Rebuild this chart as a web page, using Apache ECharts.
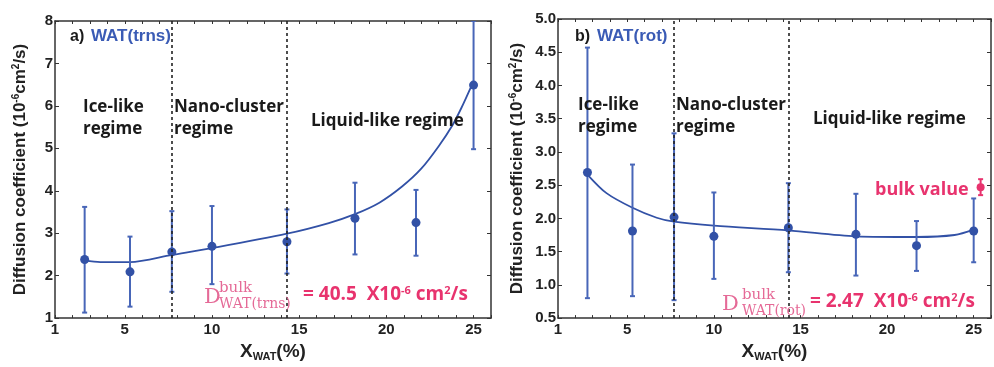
<!DOCTYPE html>
<html><head><meta charset="utf-8">
<script src="https://cdn.jsdelivr.net/npm/echarts@6/dist/echarts.min.js"></script>
<style>html,body{margin:0;padding:0;background:#fff}#c{width:994px;height:367px}</style>
</head><body><div id="c"></div><script>
// ---- data ----
const xTickLabels = [1, 5, 10, 15, 20, 25];
const regimeBounds = [7.7, 14.3];
const trnsX = [2.7, 5.3, 7.7, 10, 14.3, 18.2, 21.7, 25];
const trnsY = [2.38, 2.09, 2.56, 2.69, 2.80, 3.35, 3.25, 6.49];
const trnsLow = [1.13, 1.27, 1.62, 1.80, 2.05, 2.50, 2.47, 4.98];
const trnsHigh = [3.62, 2.92, 3.52, 3.64, 3.56, 4.19, 4.02, 8.0];
const trnsFitX = [2.7, 3.6, 5.3, 7.7, 10, 14.3, 16.7, 18.2, 19.6, 20.9, 22.0, 23.0, 23.8, 24.3, 24.9];
const trnsFitY = [2.36, 2.32, 2.32, 2.49, 2.65, 2.99, 3.24, 3.45, 3.72, 4.10, 4.52, 5.05, 5.55, 5.95, 6.49];
const rotX = [2.7, 5.3, 7.7, 10, 14.3, 18.2, 21.7, 25];
const rotY = [2.69, 1.81, 2.02, 1.73, 1.86, 1.76, 1.59, 1.81];
const rotLow = [0.80, 0.83, 0.77, 1.09, 1.19, 1.14, 1.21, 1.34];
const rotHigh = [4.57, 2.81, 3.28, 2.39, 2.53, 2.37, 1.96, 2.30];
const rotFitX = [2.7, 3.8, 5.3, 6.7, 7.7, 10, 14.3, 18.2, 21.7, 23.9, 25];
const rotFitY = [2.66, 2.38, 2.16, 2.01, 1.95, 1.89, 1.82, 1.73, 1.72, 1.75, 1.83];
const bulkX = [25.4];
const bulkY = [2.47];
const bulkLow = [2.35];
const bulkHigh = [2.59];

// ---- styles ----
const BLUE = '#3251a6', BAR = '#4866b8', PINK = '#e8336e', PINK2 = '#e56a97', DARK = '#222';
const axisFont = {fontFamily: 'Liberation Sans', fontWeight: 'bold', fontSize: 15, color: DARK};
const lineStyle = {color: '#333', width: 1.5};

function xAxes(gi) {
  return [
    {gridIndex: gi, type: 'value', min: 1, max: 26, interval: 1, position: 'bottom',
     axisLine: {lineStyle}, axisTick: {inside: true, length: 3, lineStyle: {color: '#333'}},
     axisLabel: Object.assign({customValues: xTickLabels, margin: 4}, axisFont),
     splitLine: {show: false},
     name: 'X{s|WAT}(%)', nameLocation: 'middle', nameGap: 15,
     nameTextStyle: {fontFamily: 'Liberation Sans', fontWeight: 'bold', fontSize: 19, color: DARK,
       rich: {s: {fontFamily: 'Liberation Sans', fontWeight: 'bold', fontSize: 11, color: DARK, verticalAlign: 'bottom', padding: [10, 0, 0, 0]}}}},
    {gridIndex: gi, type: 'value', min: 1, max: 26, interval: 1, position: 'top',
     axisLine: {lineStyle}, axisTick: {inside: true, length: 3, lineStyle: {color: '#333'}},
     axisLabel: {show: false}, splitLine: {show: false}}
  ];
}
function yAxes(gi, min, max, interval, fmt, gap) {
  return [
    {gridIndex: gi, type: 'value', min, max, interval, position: 'left',
     axisLine: {lineStyle}, axisTick: {inside: true, length: 4, lineStyle: {color: '#333'}},
     axisLabel: Object.assign({margin: 2, formatter: fmt}, axisFont), splitLine: {show: false},
     name: 'Diffusion coefficient (10{p|-6}cm{p|2}/s)', nameLocation: 'middle', nameGap: gap, nameRotate: 90,
     nameTextStyle: {fontFamily: 'Liberation Sans', fontWeight: 'bold', fontSize: 17, color: DARK,
       rich: {p: {fontFamily: 'Liberation Sans', fontWeight: 'bold', fontSize: 10, color: DARK, verticalAlign: 'top', padding: [0, 0, 8, 0]}}}},
    {gridIndex: gi, type: 'value', min, max, interval, position: 'right',
     axisLine: {lineStyle}, axisTick: {inside: true, length: 4, lineStyle: {color: '#333'}},
     axisLabel: {show: false}, splitLine: {show: false}}
  ];
}
function errSeries(xi, yi, xs, lows, highs, color) {
  return {type: 'custom', xAxisIndex: xi, yAxisIndex: yi, clip: true, z: 3,
    data: xs.map((x, i) => [x, lows[i], highs[i]]),
    renderItem(params, api) {
      const x = api.value(0);
      const lo = api.coord([x, api.value(1)]);
      const hi = api.coord([x, api.value(2)]);
      const w = 2.5, st = {stroke: color, lineWidth: 2};
      return {type: 'group', children: [
        {type: 'line', shape: {x1: lo[0], y1: lo[1], x2: hi[0], y2: hi[1]}, style: st},
        {type: 'line', shape: {x1: lo[0] - w, y1: lo[1], x2: lo[0] + w, y2: lo[1]}, style: st},
        {type: 'line', shape: {x1: hi[0] - w, y1: hi[1], x2: hi[0] + w, y2: hi[1]}, style: st}
      ]};
    }};
}
function pts(xi, yi, xs, ys, color, size) {
  return {type: 'scatter', xAxisIndex: xi, yAxisIndex: yi, symbolSize: size, z: 4,
    itemStyle: {color, opacity: 1}, data: xs.map((x, i) => [x, ys[i]])};
}
function fit(xi, yi, xs, ys) {
  return {type: 'line', xAxisIndex: xi, yAxisIndex: yi, smooth: 0.3, showSymbol: false, z: 2,
    lineStyle: {color: BLUE, width: 1.8}, data: xs.map((x, i) => [x, ys[i]]),
    markLine: {silent: true, symbol: 'none', label: {show: false},
      lineStyle: {color: DARK, type: [3, 3], width: 1.6},
      data: regimeBounds.map(v => ({xAxis: v}))}};
}

const regFont = {fontFamily: 'Open Sans', fontWeight: 'bold', fontSize: 17, fill: '#1a1a1a'};
function t(x, y, text, extra) {
  return {type: 'text', x, y, z: 10, style: Object.assign({text}, regFont, extra || {})};
}
const serif = {fontFamily: 'DejaVu Serif', fontWeight: 'normal', fill: PINK2};
const pinkRich = {fontFamily: 'Open Sans', fontWeight: 'bold', fontSize: 19, fill: PINK,
  rich: {s: {fontFamily: 'Open Sans', fontWeight: 'bold', fontSize: 11, fill: PINK, verticalAlign: 'top', padding: [0, 0, 9, 0]}}};

const option = {
  animation: false,
  grid: [
    {left: 55, top: 21, width: 436, height: 304},
    {left: 558, top: 19, width: 433, height: 309}
  ],
  xAxis: [...xAxes(0), ...xAxes(1)],
  yAxis: [...yAxes(0, 1, 8, 1, v => String(v), 26), ...yAxes(1, 0.5, 5, 0.5, v => v.toFixed(1), 32)],
  series: [
    fit(0, 0, trnsFitX, trnsFitY),
    errSeries(0, 0, trnsX, trnsLow, trnsHigh, BAR),
    pts(0, 0, trnsX, trnsY, BLUE, 9),
    fit(2, 2, rotFitX, rotFitY),
    errSeries(2, 2, rotX, rotLow, rotHigh, BAR),
    pts(2, 2, rotX, rotY, BLUE, 9),
    errSeries(2, 2, bulkX, bulkLow, bulkHigh, PINK),
    pts(2, 2, bulkX, bulkY, PINK, 8)
  ],
  graphic: [
    t(70, 29, 'a)', {fontFamily: 'Liberation Sans', fontSize: 16}),
    t(91, 28, 'WAT(trns)', {fontFamily: 'Liberation Sans', fontSize: 17, fill: '#3a5bb5'}),
    t(83, 99, 'Ice-like'), t(83, 121, 'regime'),
    t(174, 99, 'Nano-cluster'), t(174, 121, 'regime'),
    t(311, 113, 'Liquid-like regime'),
    t(204, 287, 'D', Object.assign({}, serif, {fontSize: 21})),
    t(219, 281, 'bulk', Object.assign({}, serif, {fontSize: 15})),
    t(219, 297, 'WAT(trns)', Object.assign({}, serif, {fontSize: 14})),
    t(303, 285, '= 40.5  X10{s|-6} cm{s|2}/s', pinkRich),

    t(575, 29, 'b)', {fontFamily: 'Liberation Sans', fontSize: 16}),
    t(597, 28, 'WAT(rot)', {fontFamily: 'Liberation Sans', fontSize: 17, fill: '#3a5bb5'}),
    t(578, 97, 'Ice-like'), t(578, 119, 'regime'),
    t(676, 97, 'Nano-cluster'), t(676, 119, 'regime'),
    t(813, 111, 'Liquid-like regime'),
    t(875, 181, 'bulk value', {fontFamily: 'Open Sans', fontWeight: 'bold', fontSize: 18, fill: PINK}),
    t(722, 294, 'D', Object.assign({}, serif, {fontSize: 21})),
    t(742, 288, 'bulk', Object.assign({}, serif, {fontSize: 15})),
    t(742, 304, 'WAT(rot)', Object.assign({}, serif, {fontSize: 14})),
    t(810, 292, '= 2.47  X10{s|-6} cm{s|2}/s', pinkRich)
  ]
};
const chart = echarts.init(document.getElementById('c'), null, {renderer: 'canvas'});
chart.setOption(option);
</script></body></html>
